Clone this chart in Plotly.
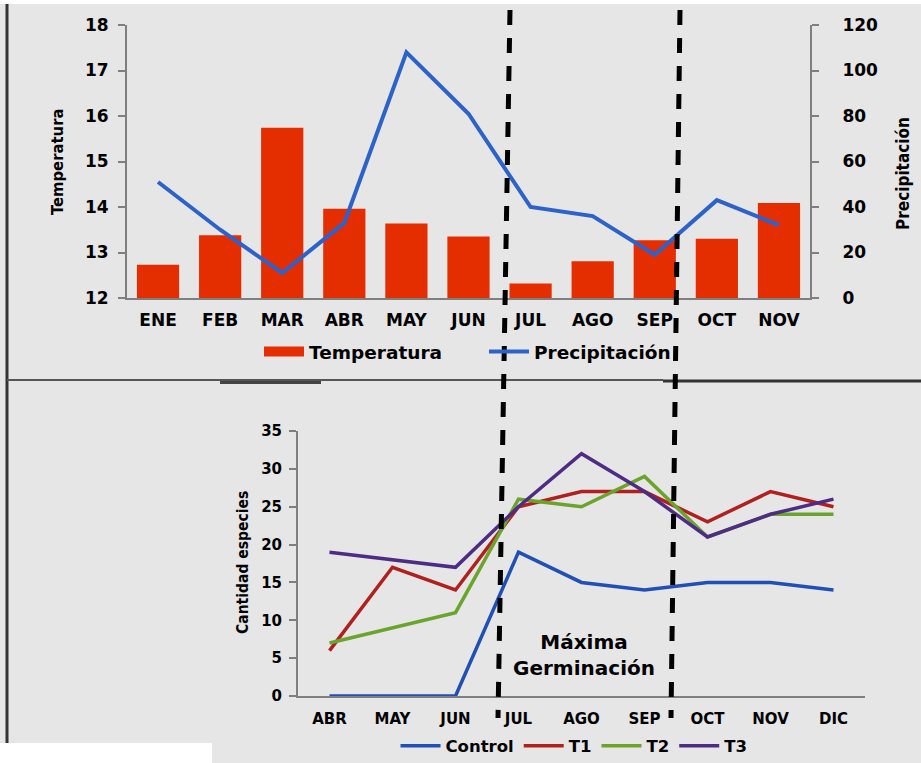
import plotly.graph_objects as go

# Monthly climate (top panel)
meses_clima = ["ENE", "FEB", "MAR", "ABR", "MAY", "JUN", "JUL", "AGO", "SEP", "OCT", "NOV"]
temperatura = [12.73, 13.38, 15.74, 13.96, 13.64, 13.35, 12.32, 12.81, 13.27, 13.30, 14.09]
precipitacion = [51, 30, 11, 33, 108, 81, 40, 36, 19, 43, 32]

# Species counts per treatment (bottom panel)
meses_germ = ["ABR", "MAY", "JUN", "JUL", "AGO", "SEP", "OCT", "NOV", "DIC"]
control = [0, 0, 0, 19, 15, 14, 15, 15, 14]
t1 = [6, 17, 14, 25, 27, 27, 23, 27, 25]
t2 = [7, 9, 11, 26, 25, 29, 21, 24, 24]
t3 = [19, 18, 17, 25, 32, 27, 21, 24, 26]

W, H = 921, 763
BG = "#e6e6e6"
AXIS = "#7f7f7f"


def px(x):
    return x / W


def py(y):
    return 1 - y / H


tick_font = dict(family="DejaVu Sans", size=17, color="black", weight="bold")
tick_font_b = dict(family="DejaVu Sans", size=15, color="black", weight="bold")
NARROW = "DejaVu Sans Condensed, Liberation Sans Narrow, Roboto, sans-serif"

fig = go.Figure()

fig.add_trace(go.Bar(
    x=meses_clima, y=temperatura, name="Temperatura",
    marker=dict(color="#e52e00", line=dict(width=0)),
    width=0.68, xaxis="x", yaxis="y", legend="legend", showlegend=False,
    legendgroup="temp",
))
# wide swatch for the temperature legend entry
fig.add_trace(go.Scatter(
    x=[None], y=[None], mode="lines", name="Temperatura",
    line=dict(color="#e52e00", width=10), xaxis="x", yaxis="y",
    legend="legend", legendgroup="temp",
))
fig.add_trace(go.Scatter(
    x=meses_clima, y=precipitacion, name="Precipitación", mode="lines",
    line=dict(color="#2d62c8", width=4), xaxis="x", yaxis="y2", legend="legend",
))

series = [("Control", control, "#2150b4"), ("T1", t1, "#b0201e"),
          ("T2", t2, "#6ba42c"), ("T3", t3, "#4f2c84")]
for nombre, vals, color in series:
    fig.add_trace(go.Scatter(
        x=meses_germ, y=vals, name=nombre, mode="lines",
        line=dict(color=color, width=3.5), xaxis="x3", yaxis="y3", legend="legend2",
    ))

fig.update_layout(
    width=W, height=H,
    margin=dict(l=0, r=0, t=0, b=0, autoexpand=False),
    paper_bgcolor=BG, plot_bgcolor=BG,
    xaxis=dict(domain=[px(127), px(810)], anchor="y", showgrid=False, automargin=False,
               range=[-0.5, 10.5], showline=True, linecolor=AXIS, linewidth=2, ticks="",
               tickfont=tick_font, ticklabelstandoff=6, fixedrange=True),
    yaxis=dict(domain=[py(298), py(25)], range=[12, 18], dtick=1, showgrid=False,
               automargin=False, zeroline=False, showline=True, linecolor=AXIS, linewidth=2,
               ticks="outside", ticklen=7, tickcolor=AXIS, tickwidth=2,
               tickfont=tick_font, ticklabelstandoff=6),
    yaxis2=dict(overlaying="y", side="right", anchor="x", range=[0, 120], dtick=20,
                automargin=False, showgrid=False, zeroline=False, showline=True,
                linecolor=AXIS, linewidth=2, ticks="outside", ticklen=7, tickcolor=AXIS,
                tickwidth=2, tickfont=tick_font, ticklabelstandoff=20),
    xaxis3=dict(domain=[px(298), px(865)], anchor="y3", showgrid=False, automargin=False,
                range=[-0.5, 8.5], showline=True, linecolor=AXIS, linewidth=2, ticks="",
                tickfont=tick_font_b, ticklabelstandoff=8),
    yaxis3=dict(domain=[py(696), py(431)], anchor="x3", range=[0, 35], dtick=5,
                automargin=False, showgrid=False, zeroline=False, showline=True,
                linecolor=AXIS, linewidth=2, ticks="outside", ticklen=7, tickcolor=AXIS,
                tickwidth=2, tickfont=tick_font_b, ticklabelstandoff=4),
    legend=dict(orientation="h", x=px(484), xanchor="center", y=py(352), yanchor="middle",
                bgcolor="rgba(0,0,0,0)", font=dict(family="DejaVu Sans", size=18.5,
                color="black", weight="bold"), itemwidth=40, entrywidth=170,
                tracegroupgap=0),
    legend2=dict(orientation="h", x=px(574), xanchor="center", y=py(746), yanchor="middle",
                 bgcolor="rgba(0,0,0,0)", font=dict(family="DejaVu Sans", size=16.5,
                 color="black", weight="bold"), itemwidth=40),
)

# axis titles
for texto, xc, yc, size in [("Temperatura", 58, 162, 16.5),
                            ("Precipitación", 903, 174, 17),
                            ("Cantidad especies", 243, 563, 15.5)]:
    fig.add_annotation(x=px(xc), y=py(yc), xref="paper", yref="paper", text=texto,
                       xanchor="center", yanchor="middle", textangle=-90, showarrow=False,
                       font=dict(family=NARROW, size=size, color="black", weight="bold"))

fig.add_annotation(x=px(584), y=py(655), xref="paper", yref="paper",
                   xanchor="center", yanchor="middle",
                   text="Máxima<br>Germinación", showarrow=False,
                   font=dict(family="DejaVu Sans", size=20, color="black", weight="bold"))


def seg(x0, y0, x1, y1, color, width, dash="solid"):
    return dict(type="line", xref="paper", yref="paper",
                x0=px(x0), x1=px(x1), y0=py(y0), y1=py(y1),
                line=dict(color=color, width=width, dash=dash), layer="above")


# page frame
frame = [
    dict(type="rect", xref="paper", yref="paper", x0=0, x1=1, y0=py(4), y1=1,
         fillcolor="white", line=dict(width=0), layer="below"),
    dict(type="rect", xref="paper", yref="paper", x0=0, x1=px(212), y0=0, y1=py(743),
         fillcolor="white", line=dict(width=0), layer="above"),
    seg(7, 4, 7, 743, "#333333", 3),
    seg(7, 380, 663, 380, "#555555", 2),
    seg(663, 381, W, 381, "#333333", 3),
    seg(220, 382.5, 321, 382.5, "#444444", 3),
]
# germination window markers
for xt, xb in [(510, 498), (680, 671)]:
    frame.append(seg(xt, 10, xb, 718, "black", 5, "15px,13px"))
fig.update_layout(shapes=frame)

fig.write_html("out.html")
